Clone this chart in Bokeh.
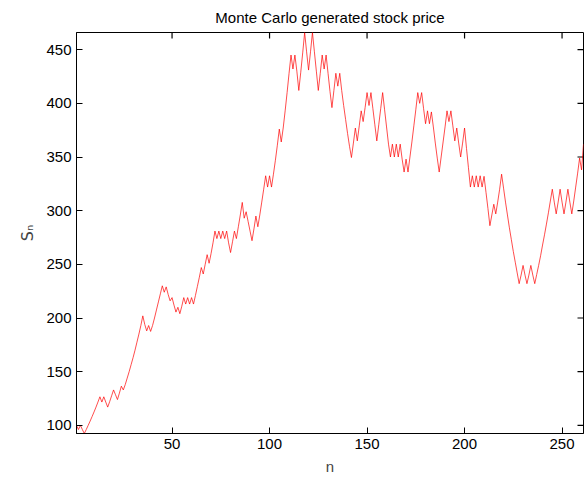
import math
from bokeh.plotting import figure
from bokeh.models import Range1d, FixedTicker, ColumnDataSource
from bokeh.embed import file_html
from bokeh.resources import INLINE

# ---- data ----
title_text = "Monte Carlo generated stock price"
x_label = "n"
y_label = "S\u2099"

price = [
    100, 96.1, 100, 96.1, 92.4, 96.1, 100, 104, 108.2, 112.5,          # 1-10
    117, 121.7, 126.6, 121.7, 126.6, 121.7, 117, 122, 127.5, 133,      # 11-20
    128.5, 124, 130, 136.5, 133, 138, 144, 150, 156.5, 163,            # 21-30
    170, 177.5, 185, 193, 202, 194, 188, 193, 187.5, 193,              # 31-40
    200, 207.5, 215, 222.5, 230, 224, 229, 222, 216, 219,              # 41-50
    212, 205.5, 210, 204, 211, 219, 213, 219, 213, 219,                # 51-60
    213, 221, 229.5, 238, 247, 241, 250, 259, 251, 260,                # 61-70
    270, 281, 274, 281, 274, 281, 274, 281, 270, 261,                  # 71-80
    271, 281, 274, 285, 296, 307.7, 293, 299, 290, 281,                # 81-90
    272, 283, 295, 285, 296, 308, 320, 332.5, 322, 332.5,              # 91-100
    322, 334, 347, 361, 376, 364, 377, 393, 410, 428,                  # 101-110
    445, 432, 445, 430, 412, 429, 447, 466, 448, 431,                  # 111-120
    448, 466, 448, 430, 412, 428, 445, 432, 445, 428,                  # 121-130
    411, 396, 412, 428, 416, 428, 412, 398, 385, 372,                  # 131-140
    360, 349.5, 363, 377, 365, 379, 393, 383, 396, 410,                # 141-150
    398, 410, 395, 380, 365, 380, 395, 410, 394, 378,                  # 151-160
    362, 350, 362, 350, 362, 350, 362, 348, 336, 348,                  # 161-170
    336, 350, 364, 379, 394, 410, 400, 410, 395, 381,                  # 171-180
    393, 381, 392, 378, 363, 349, 336, 350, 364, 378,                  # 181-190
    393, 383, 393, 379, 365, 377, 363, 350, 363, 377,                  # 191-200
    358, 340, 322, 332.5, 322, 332.5, 322, 332.5, 322, 332,            # 201-210
    317, 302, 286, 296, 306, 297, 308, 320, 334, 321,                  # 211-220
    308, 296, 284, 273, 262, 252, 242, 232, 240, 249,                  # 221-230
    240, 232, 240, 249, 240, 232, 240.5, 249, 258, 268,                # 231-240
    277.5, 287.5, 298, 309, 320, 308, 297, 308, 320, 308,              # 241-250
    297, 308, 320, 308, 297, 309, 322, 335, 349, 338,                  # 251-260
    362,                                                               # 261
]
steps = list(range(1, len(price) + 1))

x_ticks = [50, 100, 150, 200, 250]
y_ticks = [100, 150, 200, 250, 300, 350, 400, 450]

FONT = "Liberation Sans"

src = ColumnDataSource(data=dict(n=steps, s=price))
x_lo, x_hi = steps[0], steps[-1]
y_lo, y_hi = min(price), max(price)

p = figure(
    width=588, height=477,
    output_backend="svg", toolbar_location=None,
    x_range=Range1d(x_lo, x_hi),
    y_range=Range1d(y_lo, y_hi),
    min_border_left=76, min_border_right=5,
    min_border_top=32, min_border_bottom=43,
    title=title_text,
)
p.background_fill_color = "white"
p.border_fill_color = "white"
p.outline_line_color = "black"
p.outline_line_width = 1
p.xgrid.visible = False
p.ygrid.visible = False

p.title.align = "center"
p.title.vertical_align = "top"
p.title.text_font = FONT
p.title.text_font_size = "15px"
p.title.text_font_style = "normal"
p.title.text_color = "black"
p.title.standoff = 10

def style_axis(ax, ticks):
    ax.ticker = FixedTicker(ticks=ticks)
    ax.axis_line_color = "black"
    ax.major_tick_line_color = "black"
    ax.major_tick_line_width = 1
    ax.major_tick_in = 6
    ax.major_tick_out = 0
    ax.minor_tick_in = 0
    ax.minor_tick_out = 0
    ax.minor_tick_line_color = None
    ax.major_label_text_font = FONT
    ax.major_label_text_color = "black"
    ax.major_label_text_font_size = "15px"
    ax.major_label_standoff = 5

xa = p.xaxis[0]
ya = p.yaxis[0]
style_axis(xa, x_ticks)
style_axis(ya, y_ticks)
xa.axis_label = x_label
xa.axis_label_text_font = FONT
xa.axis_label_text_font_size = "15px"
xa.axis_label_text_font_style = "normal"
xa.axis_label_standoff = 6

ya.axis_label = y_label
ya.axis_label_text_font = "DejaVu Sans"
ya.axis_label_text_font_size = "16px"
ya.axis_label_text_font_style = "normal"
ya.axis_label_standoff = 6

# box ticks on the top and right edges (pointing inward, as in the reference)
p.ray(x=x_ticks, y=[y_hi] * len(x_ticks), length=6, length_units="screen",
      angle=-math.pi / 2, line_color="black", line_width=1.2)
p.ray(x=[x_hi] * len(y_ticks), y=y_ticks, length=6, length_units="screen",
      angle=math.pi, line_color="black", line_width=1.2)

p.line("n", "s", source=src, line_color="red", line_width=1, line_alpha=0.7)

open("out.html", "w").write(file_html(p, INLINE))
